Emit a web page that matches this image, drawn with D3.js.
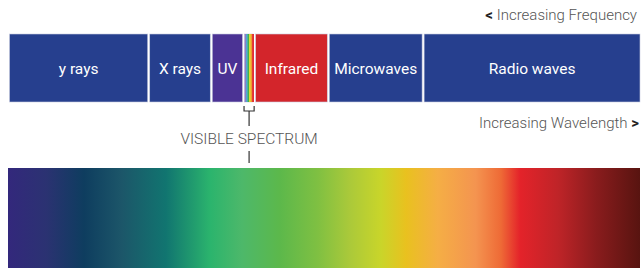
<!DOCTYPE html>
<html>
<head>
<meta charset="utf-8">
<script src="https://cdn.jsdelivr.net/npm/d3@7"></script>
<style>
  body { margin: 0; background: #fff; }
  svg { display: block; }
  text { font-family: Roboto, "Noto Sans", sans-serif; }
</style>
</head>
<body>
<div id="chart"></div>
<script>
// spectrum bands, short wavelength -> long wavelength
var bands = ["y rays", "X rays", "UV", "Visible", "Infrared", "Microwaves", "Radio waves"];
var bandWidths = [139, 62, 32, 11, 73, 94, 216];
var bandColors = ["#263f8e", "#263f8e", "#4b3394", "visible", "#d3252b", "#263f8e", "#263f8e"];

// thin rainbow inside the visible band
var rainbow = ["#8d7fc4", "#4aa3d8", "#3fb34f", "#e3d62a", "#f29a2e", "#e2262a"];

// gradient under the diagram
var stopOffsets = [0, 0.06, 0.12, 0.18, 0.25, 0.32, 0.37, 0.43, 0.49, 0.54, 0.59, 0.63, 0.68, 0.74, 0.78, 0.81, 0.87, 0.93, 1];
var stopColors = ["#33287c", "#2b3272", "#0e3d5f", "#1c5669", "#117570", "#2bb46d", "#4db86a", "#5cb84b", "#7fc042", "#aac93a", "#c9d52a", "#e9c11f", "#f5ae45", "#f49450", "#ee6a36", "#e4232a", "#bf2428", "#8a1c1d", "#581410"];

createChart();

function createChart() {
  var width = 642;
  var height = 268;

  var svg = d3.select("#chart").append("svg")
    .attr("width", width)
    .attr("height", height);

  var total = d3.sum(bandWidths);
  var starts = d3.cumsum([0].concat(bandWidths)).slice(0, bands.length);

  var x = d3.scaleLinear()
    .domain([0, total])
    .range([8.5, 641]);

  var barTop = 34;
  var barH = 68;

  var g = svg.append("g");

  g.selectAll("rect.band")
    .data(bands)
    .enter().append("rect")
    .attr("class", "band")
    .attr("x", function(d, i) { return x(starts[i]) + 1; })
    .attr("y", barTop)
    .attr("width", function(d, i) { return x(starts[i] + bandWidths[i]) - x(starts[i]) - 2; })
    .attr("height", barH)
    .attr("fill", function(d, i) { return bandColors[i] == "visible" ? "none" : bandColors[i]; })
    .attr("stroke", "#c9cde0")
    .attr("stroke-width", 0.6);

  // rainbow stripes for the visible band
  var vi = bands.indexOf("Visible");
  var vx = d3.scaleBand()
    .domain(d3.range(rainbow.length))
    .range([x(starts[vi]) + 1, x(starts[vi] + bandWidths[vi]) - 1]);

  g.selectAll("rect.rainbow")
    .data(rainbow)
    .enter().append("rect")
    .attr("class", "rainbow")
    .attr("x", function(d, i) { return vx(i); })
    .attr("y", barTop)
    .attr("width", vx.bandwidth() + 0.3)
    .attr("height", barH)
    .attr("fill", function(d) { return d; });

  g.selectAll("text.label")
    .data(bands.filter(function(d) { return d != "Visible"; }))
    .enter().append("text")
    .attr("class", "label")
    .attr("x", function(d) {
      var j = bands.indexOf(d);
      return x(starts[j] + bandWidths[j] / 2);
    })
    .attr("y", barTop + barH / 2 + 5.5)
    .attr("text-anchor", "middle")
    .attr("fill", "#fff")
    .attr("font-size", 15.5)
    .text(function(d) { return d; });

  // bracket + caption for visible spectrum
  var vl = x(starts[vi]) + 0.5;
  var vr = x(starts[vi] + bandWidths[vi]) - 0.5;
  var vm = (vl + vr) / 2;
  svg.append("path")
    .attr("d", "M" + vl + "," + 106 + "V" + 111 + "H" + vr + "V" + 106 + "M" + vm + "," + 111 + "V" + 126)
    .attr("fill", "none")
    .attr("stroke", "#333")
    .attr("stroke-width", 1.2);

  svg.append("line")
    .attr("x1", vm).attr("x2", vm)
    .attr("y1", 151).attr("y2", 163)
    .attr("stroke", "#333")
    .attr("stroke-width", 1.2);

  svg.append("text")
    .attr("x", vm)
    .attr("y", 144)
    .attr("text-anchor", "middle")
    .attr("fill", "#555")
    .attr("font-size", 15.5)
    .attr("font-weight", 300)
    .text("VISIBLE SPECTRUM");

  // direction notes
  var note1 = svg.append("text")
    .attr("x", 637)
    .attr("y", 20)
    .attr("text-anchor", "end")
    .attr("fill", "#555")
    .attr("font-size", 15)
    .attr("font-weight", 300);
  note1.append("tspan").attr("font-weight", 700).attr("fill", "#222").text("< ");
  note1.append("tspan").text("Increasing Frequency");

  var note2 = svg.append("text")
    .attr("x", 639)
    .attr("y", 128)
    .attr("text-anchor", "end")
    .attr("fill", "#555")
    .attr("font-size", 15)
    .attr("font-weight", 300);
  note2.append("tspan").text("Increasing Wavelength ");
  note2.append("tspan").attr("font-weight", 700).attr("fill", "#222").text(">");

  // colour gradient
  var grad = svg.append("defs").append("linearGradient")
    .attr("id", "spec")
    .attr("x1", "0%").attr("x2", "100%")
    .attr("y1", "0%").attr("y2", "0%");

  grad.selectAll("stop")
    .data(stopOffsets)
    .enter().append("stop")
    .attr("offset", function(d) { return d; })
    .attr("stop-color", function(d, i) { return stopColors[i]; });

  svg.append("rect")
    .attr("x", 8)
    .attr("y", 168)
    .attr("width", 632)
    .attr("height", 100)
    .attr("fill", "url(#spec)");
}
</script>
</body>
</html>
